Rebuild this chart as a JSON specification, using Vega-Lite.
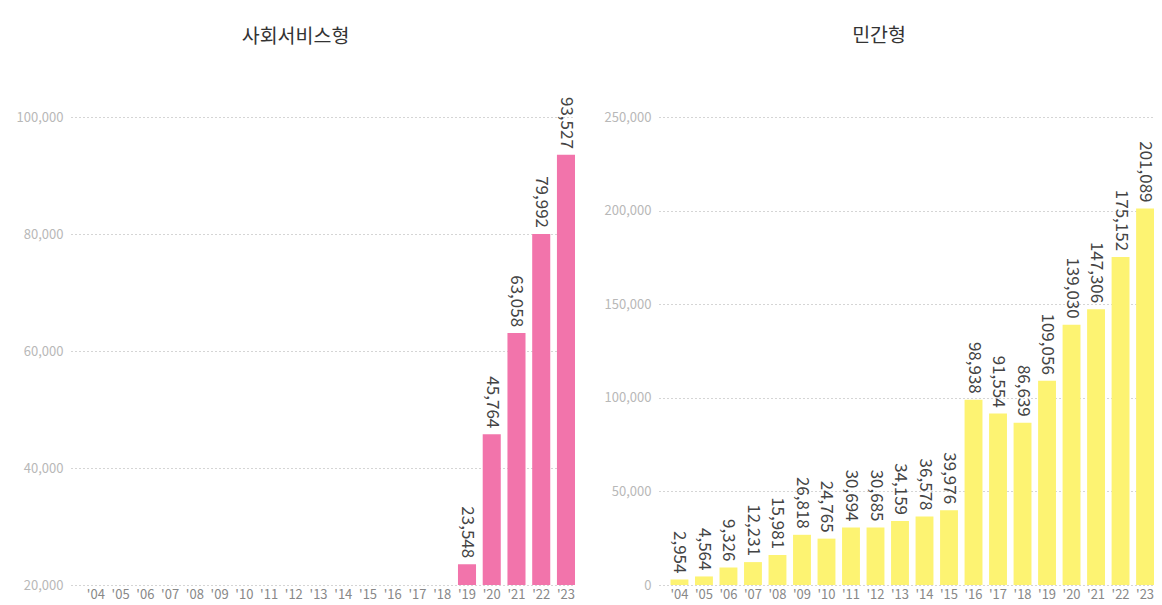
{
  "$schema": "https://vega.github.io/schema/vega-lite/v6.json",
  "padding": {"left": 16, "top": 25, "right": 0, "bottom": 0},
  "spacing": 29,
  "config": {
    "font": "Noto Sans CJK KR",
    "view": {"stroke": null},
    "axis": {"domain": false, "ticks": false, "labelFont": "Noto Sans CJK KR"},
    "axisY": {"gridDash": [1, 3], "gridColor": "#aaaaaa", "labelColor": "#b8b8b8", "labelFontSize": 13, "labelPadding": 8},
    "axisX": {"labelColor": "#888888", "labelFontSize": 13, "labelPadding": 3, "labelAngle": 0, "grid": false},
    "title": {"fontSize": 19.5, "fontWeight": "normal", "color": "#333333", "anchor": "middle", "frame": "bounds"}
  },
  "datasets": {
    "social": [
      {"year": "'19", "value": 23548},
      {"year": "'20", "value": 45764},
      {"year": "'21", "value": 63058},
      {"year": "'22", "value": 79992},
      {"year": "'23", "value": 93527}
    ],
    "private": [
      {"year": "'04", "value": 2954},
      {"year": "'05", "value": 4564},
      {"year": "'06", "value": 9326},
      {"year": "'07", "value": 12231},
      {"year": "'08", "value": 15981},
      {"year": "'09", "value": 26818},
      {"year": "'10", "value": 24765},
      {"year": "'11", "value": 30694},
      {"year": "'12", "value": 30685},
      {"year": "'13", "value": 34159},
      {"year": "'14", "value": 36578},
      {"year": "'15", "value": 39976},
      {"year": "'16", "value": 98938},
      {"year": "'17", "value": 91554},
      {"year": "'18", "value": 86639},
      {"year": "'19", "value": 109056},
      {"year": "'20", "value": 139030},
      {"year": "'21", "value": 147306},
      {"year": "'22", "value": 175152},
      {"year": "'23", "value": 201089}
    ]
  },
  "hconcat": [
    {
      "title": {"text": "사회서비스형", "offset": 49},
      "width": 504,
      "height": 468,
      "data": {"name": "social"},
      "encoding": {
        "x": {"field": "year", "type": "ordinal", "sort": null,
          "scale": {"domain": ["'04","'05","'06","'07","'08","'09","'10","'11","'12","'13","'14","'15","'16","'17","'18","'19","'20","'21","'22","'23"], "paddingInner": 0.27, "paddingOuter": 0.32, "align": 1},
          "axis": {"title": null}},
        "y": {"field": "value", "type": "quantitative",
          "scale": {"domain": [20000, 100000], "zero": false, "nice": false},
          "axis": {"title": null, "values": [20000, 40000, 60000, 80000, 100000], "format": ",.0f"}}
      },
      "layer": [
        {"mark": {"type": "bar", "color": "#F274AB", "clip": true}},
        {"mark": {"type": "text", "angle": 90, "align": "right", "baseline": "middle", "dx": -6, "fontSize": 17, "color": "#444444"},
          "encoding": {"text": {"field": "value", "type": "quantitative", "format": ",.0f"}}}
      ]
    },
    {
      "title": {"text": "민간형", "offset": 65},
      "width": 495,
      "height": 468,
      "data": {"name": "private"},
      "encoding": {
        "x": {"field": "year", "type": "ordinal", "sort": null,
          "scale": {"paddingInner": 0.27, "paddingOuter": 0.235, "align": 1},
          "axis": {"title": null}},
        "y": {"field": "value", "type": "quantitative",
          "scale": {"domain": [0, 250000], "nice": false},
          "axis": {"title": null, "values": [0, 50000, 100000, 150000, 200000, 250000], "format": ",.0f"}}
      },
      "layer": [
        {"mark": {"type": "bar", "color": "#FDF372"}},
        {"mark": {"type": "text", "angle": 90, "align": "right", "baseline": "middle", "dx": -6, "fontSize": 17, "color": "#444444"},
          "encoding": {"text": {"field": "value", "type": "quantitative", "format": ",.0f"}}}
      ]
    }
  ]
}
